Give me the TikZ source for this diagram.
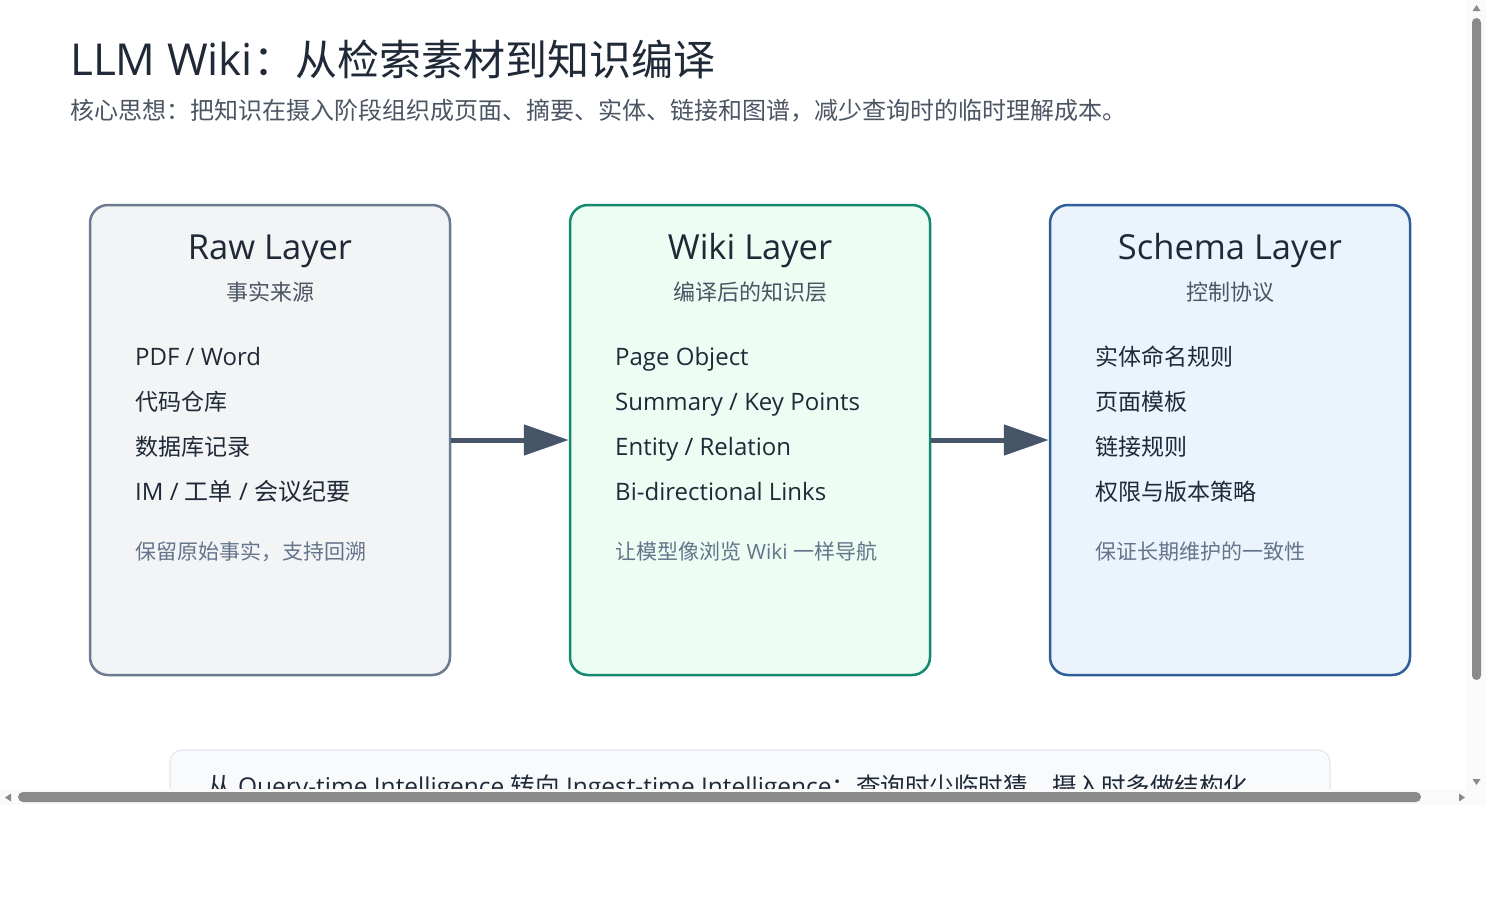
\documentclass[tikz,border=0pt]{standalone}
\usepackage{fontspec}
\setmainfont{Open Sans}
\newfontfamily\zh{Noto Sans CJK SC}
\usetikzlibrary{arrows.meta}
\definecolor{ink}{HTML}{1F2937}
\definecolor{subink}{HTML}{4B5563}
\definecolor{noteink}{HTML}{64748B}
\definecolor{rawb}{HTML}{6B7A90}
\definecolor{rawf}{HTML}{F3F4F6}
\definecolor{wikib}{HTML}{13896F}
\definecolor{wikif}{HTML}{ECFDF3}
\definecolor{schb}{HTML}{2F5E98}
\definecolor{schf}{HTML}{EBF3FC}
\definecolor{arrowc}{HTML}{475569}
\definecolor{botf}{HTML}{F8FAFC}
\definecolor{botb}{HTML}{E2E8F0}
\definecolor{sbar}{HTML}{8A8A8A}
\definecolor{strack}{HTML}{FAFAFA}
\tikzset{
  layerbox/.style={draw, line width=2.5pt, rounded corners=18pt, minimum width=360pt, minimum height=470pt, inner sep=0pt},
  ltitle/.style={font=\fontsize{34.5}{40}\selectfont, text=ink, inner sep=0pt, anchor=base},
  lsub/.style={font=\zh\fontsize{22}{26}\selectfont, text=subink, inner sep=0pt, anchor=base},
  item/.style={font=\fontsize{24}{28}\selectfont, text=ink, anchor=base west, inner sep=0pt},
  zitem/.style={font=\zh\fontsize{23}{28}\selectfont, text=ink, anchor=base west, inner sep=0pt},
  note/.style={font=\fontsize{21}{25}\selectfont, text=noteink, anchor=base west, inner sep=0pt},
  flow/.style={draw=arrowc, line width=5pt, -{Triangle[length=45pt,width=30pt]}},
}
\begin{document}
\begin{tikzpicture}[x=1pt,y=-1pt]
\useasboundingbox (0,0) rectangle (1500,900);
\fill[white] (0,0) rectangle (1500,900);
\begin{scope}
\clip (0,0) rectangle (1468,790);
\node[anchor=base west, inner sep=0pt, font=\fontsize{44}{48}\selectfont, text=ink] (title) at (70,75) {LLM Wiki{\zh\fontsize{42}{48}\selectfont ：从检索素材到知识编译}};
\node[anchor=base west, inner sep=0pt, font=\zh\fontsize{24}{28}\selectfont, text=subink] (subtitle) at (70,119) {核心思想：把知识在摄入阶段组织成页面、摘要、实体、链接和图谱，减少查询时的临时理解成本。};

\node[layerbox, draw=rawb, fill=rawf] (raw) at (270,440) {};
\node[layerbox, draw=wikib, fill=wikif] (wiki) at (750,440) {};
\node[layerbox, draw=schb, fill=schf] (schema) at (1230,440) {};

\node[ltitle] (rawt) at (270,259) {Raw Layer};
\node[lsub] (raws) at (270,300) {事实来源};
\node[item] (r1) at (135,365) {PDF / Word};
\node[zitem] (r2) at (135,410) {代码仓库};
\node[zitem] (r3) at (135,455) {数据库记录};
\node[item] (r4) at (135,500) {IM / {\zh 工单} / {\zh 会议纪要}};
\node[note] (rn) at (135,559) {\zh 保留原始事实，支持回溯};

\node[ltitle] (wikit) at (750,259) {Wiki Layer};
\node[lsub] (wikis) at (750,300) {编译后的知识层};
\node[item] (w1) at (615,365) {Page Object};
\node[item] (w2) at (615,410) {Summary / Key Points};
\node[item] (w3) at (615,455) {Entity / Relation};
\node[item] (w4) at (615,500) {Bi-directional Links};
\node[note] (wn) at (615,559) {{\zh 让模型像浏览} Wiki {\zh 一样导航}};

\node[ltitle] (scht) at (1230,259) {Schema Layer};
\node[lsub] (schs) at (1230,300) {控制协议};
\node[zitem] (s1) at (1095,365) {实体命名规则};
\node[zitem] (s2) at (1095,410) {页面模板};
\node[zitem] (s3) at (1095,455) {链接规则};
\node[zitem] (s4) at (1095,500) {权限与版本策略};
\node[note] (sn) at (1095,559) {\zh 保证长期维护的一致性};

\draw[flow] (raw.east) -- (wiki.west);
\draw[flow] (wiki.east) -- (schema.west);

\node[draw=botb, fill=botf, line width=1.2pt, rounded corners=12pt, minimum width=1160pt, minimum height=100pt, inner sep=0pt] (bottom) at (750,800) {};
\node[anchor=base west, inner sep=0pt, font=\fontsize{24.5}{28}\selectfont, text=ink] (bottomtext) at (207,795) {{\zh 从} Query-time Intelligence {\zh 转向} Ingest-time Intelligence{\zh ：查询时少临时猜，摄入时多做结构化}};
\end{scope}
% scrollbars
\fill[strack] (1466,0) rectangle (1486,805);
\fill[strack] (0,789) rectangle (1486,805);
\fill[sbar, rounded corners=4.5pt] (1472,18) rectangle (1481,680);
\fill[sbar, rounded corners=5pt] (18,792) rectangle (1421,802);
\fill[sbar] (1472.5,11) -- (1480.5,11) -- (1476.5,5) -- cycle;
\fill[sbar] (1472.5,779) -- (1480.5,779) -- (1476.5,785) -- cycle;
\fill[sbar] (11,793.5) -- (11,801.5) -- (5,797.5) -- cycle;
\fill[sbar] (1459,793.5) -- (1459,801.5) -- (1465,797.5) -- cycle;
\end{tikzpicture}
\end{document}
